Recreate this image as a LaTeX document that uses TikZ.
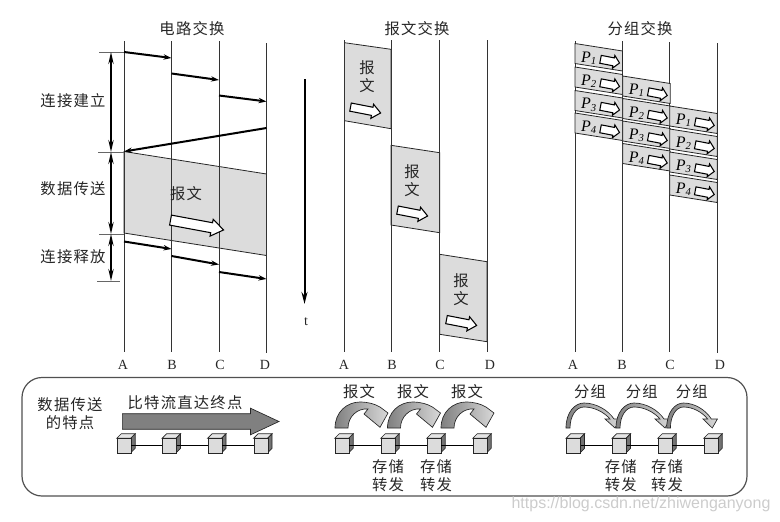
\documentclass[tikz,border=0pt]{standalone}
\usepackage{fontspec}
\setmainfont{Liberation Serif}
\newfontfamily\cjkfont[LetterSpace=8]{Noto Sans CJK SC}
\newfontfamily\markfont{Liberation Sans}
\usetikzlibrary{arrows.meta,shapes.arrows}
\definecolor{bandgray}{HTML}{DCDCDC}
\definecolor{arcdark}{HTML}{808080}
\definecolor{arclight}{HTML}{D8D8D8}
\definecolor{boxgray}{HTML}{505050}
\begin{document}
\begin{tikzpicture}[
  x=0.75pt, y=-0.75pt, % one unit is one pixel of the reference
  cjk label/.style={font=\cjkfont\fontsize{11.5}{13.5}\selectfont, align=center, inner sep=0pt, text=black!85},
  letter label/.style={font=\fontsize{10.5}{12}\selectfont, inner sep=0pt, text=black!85},
  time line/.style={draw=black!80, line width=0.75pt},
  band/.style={draw=black!85, line width=0.6pt, fill=bandgray},
  signal edge/.style={-{Stealth[length=6pt,width=4pt]}, line width=1.5pt},
  span edge/.style={{Stealth[length=9pt,width=4pt]}-{Stealth[length=9pt,width=4pt]}, line width=1.3pt},
  tick edge/.style={draw=black!60, line width=0.4pt},
  white arrow/.style={draw=black, fill=white, line width=0.8pt, single arrow, anchor=tail, inner xsep=0pt, shape border uses incircle=false},
  link edge/.style={draw, line width=0.7pt},
  cube/.pic={
    \path[draw=black!85, line width=0.5pt, fill=black!10] (0,0) -- (4.5,-4.5) -- (18.5,-4.5) -- (14,0) -- cycle;
    \path[draw=black!85, line width=0.5pt, fill=black!55] (14,0) -- (18.5,-4.5) -- (18.5,10) -- (14,14.5) -- cycle;
    \node[draw=black!85, line width=0.5pt, fill=bandgray, anchor=north west, minimum width=10.5pt, minimum height=10.9pt, inner sep=0pt] (-f) at (0,0) {};
  },
  wide arc/.pic={
    \shade[left color=arcdark, right color=arclight, draw=black!85, line width=0.5pt]
      (0,0) .. controls (0,-16) and (12,-26) .. (25,-26) .. controls (33,-26) and (40,-24) .. (45,-21)
      -- (53,-15) -- (45,-0.7) -- (29,-14) -- (33,-19) .. controls (22,-20) and (13,-11) .. (13,0) -- cycle;
  },
  thin arc/.pic={
    \shade[left color=arcdark, right color=arclight, draw=black!85, line width=0.5pt]
      (0,0) .. controls (0,-16) and (9,-25) .. (18,-25) .. controls (30,-25) and (42,-18) .. (48,-9)
      -- (54.5,-9) -- (49,0) -- (39,-9) -- (44,-9) .. controls (38,-16) and (28,-21) .. (18,-21)
      .. controls (10,-21) and (4,-12) .. (4,0) -- cycle;
  },
  packet/.pic={
    \path[band] (0,0) -- (47.5,7.5) -- (47.5,27.5) -- (0,20) -- cycle;
    \node[font=\fontsize{12}{14}\selectfont, inner sep=0pt] (-p) at (14,14.5) {\textit{P}\textsubscript{\textit{#1}}};
    \node[white arrow, inner ysep=2.6pt, minimum height=14.5pt, single arrow head extend=1.9pt, single arrow tip angle=95, rotate=-11] (-a) at (25,15.7) {};
  },
]
\useasboundingbox (0,0) rectangle (780,521);
% Define the titles
\node[cjk label] (title1) at (192,29) {电路交换};
\node[cjk label] (title2) at (417,29) {报文交换};
\node[cjk label] (title3) at (640,29) {分组交换};
% Circuit switching: band first, then the time lines
\path[band] (124,151.5) -- (266.5,174) -- (266.5,255.5) -- (124,233) -- cycle;
\coordinate (A1t) at (124,41);    \coordinate (A1b) at (124,352);
\coordinate (B1t) at (171.5,41);  \coordinate (B1b) at (171.5,352);
\coordinate (C1t) at (219,41);    \coordinate (C1b) at (219,352);
\coordinate (D1t) at (266.5,43);  \coordinate (D1b) at (266.5,353);
\path[time line] (A1t) edge (A1b);
\path[time line] (B1t) edge (B1b);
\path[time line] (C1t) edge (C1b);
\path[time line] (D1t) edge (D1b);
\node[letter label] (A1) at (123,365) {A};
\node[letter label] (B1) at (172,365) {B};
\node[letter label] (C1) at (220,365) {C};
\node[letter label] (D1) at (265,365) {D};
% Signal edges
\coordinate (s1) at (124,52);     \coordinate (s2) at (171.5,58);
\coordinate (s3) at (171.5,73.5); \coordinate (s4) at (219,80);
\coordinate (s5) at (219,95.5);   \coordinate (s6) at (266.5,101.5);
\coordinate (s7) at (266.5,128);  \coordinate (s8) at (124,151.5);
\coordinate (s9) at (124,241.5);  \coordinate (s10) at (171.5,249);
\coordinate (s11) at (171.5,256); \coordinate (s12) at (219,264.5);
\coordinate (s13) at (219,272);   \coordinate (s14) at (266.5,279);
\draw[signal edge] (s1) -- (s2);
\draw[signal edge] (s3) -- (s4);
\draw[signal edge] (s5) -- (s6);
\draw[signal edge] (s7) -- (s8);
\draw[signal edge] (s9) -- (s10);
\draw[signal edge] (s11) -- (s12);
\draw[signal edge] (s13) -- (s14);
% Spans on the left
\coordinate (m1) at (111,52);  \coordinate (t1) at (99,52);  \coordinate (u1) at (124,52);
\coordinate (m2) at (111,152); \coordinate (t2) at (98,152); \coordinate (u2) at (124,152);
\coordinate (m3) at (111,234); \coordinate (t3) at (99,234); \coordinate (u3) at (124,234);
\coordinate (m4) at (111,281); \coordinate (t4) at (97,281); \coordinate (u4) at (120,281);
\path[tick edge] (t1) edge (u1);
\path[tick edge] (t2) edge (u2);
\path[tick edge] (t3) edge (u3);
\path[tick edge] (t4) edge (u4);
\draw[span edge] (m1) -- (m2);
\draw[span edge] (m2) -- (m3);
\draw[span edge] (m3) -- (m4);
\node[cjk label] (setup) at (73,101) {连接建立};
\node[cjk label] (transfer) at (73,189) {数据传送};
\node[cjk label] (release) at (73,257) {连接释放};
\node[cjk label] (msg1) at (186,194) {报文};
\node[white arrow, inner ysep=3.4pt, minimum height=40.5pt, single arrow head extend=2.6pt, single arrow tip angle=70, rotate=-10.5] (arrow1) at (170,220) {};
% Time axis
\coordinate (time0) at (304.5,79);
\coordinate (time1) at (304.5,304);
\draw[-{Stealth[length=9pt,width=4.5pt]}, line width=1.5pt] (time0) -- (time1);
\node[letter label] (tlabel) at (306,322) {t};
% Message switching
\path[band] (344.5,42.7) -- (391,49.3) -- (391,128.7) -- (344.5,120.7) -- cycle;
\path[band] (391,145.3) -- (439.7,152.7) -- (439.7,232.7) -- (391,225) -- cycle;
\path[band] (439.7,254.3) -- (487,261.7) -- (487,341.7) -- (439.7,334.3) -- cycle;
\coordinate (A2t) at (344.5,40); \coordinate (A2b) at (344.5,352);
\coordinate (B2t) at (391,40);   \coordinate (B2b) at (391,352);
\coordinate (C2t) at (439.7,40); \coordinate (C2b) at (439.7,352);
\coordinate (D2t) at (487,40);   \coordinate (D2b) at (487,352);
\path[time line] (A2t) edge (A2b);
\path[time line] (B2t) edge (B2b);
\path[time line] (C2t) edge (C2b);
\path[time line] (D2t) edge (D2b);
\node[letter label] (A2) at (344,365) {A};
\node[letter label] (B2) at (392,365) {B};
\node[letter label] (C2) at (440,365) {C};
\node[letter label] (D2) at (490,365) {D};
\node[cjk label] (msg2) at (367,77) {报\\文};
\node[cjk label] (msg3) at (412,181) {报\\文};
\node[cjk label] (msg4) at (461,290) {报\\文};
\node[white arrow, inner ysep=2.7pt, minimum height=23pt, single arrow head extend=2.3pt, single arrow tip angle=80, rotate=-11] (arrow2) at (350,107) {};
\node[white arrow, inner ysep=2.7pt, minimum height=23pt, single arrow head extend=2.3pt, single arrow tip angle=80, rotate=-11] (arrow3) at (397,210) {};
\node[white arrow, inner ysep=2.7pt, minimum height=23pt, single arrow head extend=2.3pt, single arrow tip angle=80, rotate=-11] (arrow4) at (446,319.5) {};
% Packet switching
\coordinate (A3t) at (575,41);   \coordinate (A3b) at (575,352);
\coordinate (B3t) at (622.7,41); \coordinate (B3b) at (622.7,352);
\coordinate (C3t) at (669.7,42); \coordinate (C3b) at (669.7,352);
\coordinate (D3t) at (717,43);   \coordinate (D3b) at (717,353);
\path[time line] (A3t) edge (A3b);
\path[time line] (B3t) edge (B3b);
\path[time line] (C3t) edge (C3b);
\path[time line] (D3t) edge (D3b);
\node[letter label] (A3) at (573,365) {A};
\node[letter label] (B3) at (622,365) {B};
\node[letter label] (C3) at (670,365) {C};
\node[letter label] (D3) at (720,365) {D};
\pic (pa1) at (575,43.5) {packet=1};
\pic (pa2) at (575,67) {packet=2};
\pic (pa3) at (575,90.5) {packet=3};
\pic (pa4) at (575,113) {packet=4};
\pic (pb1) at (622.7,76) {packet=1};
\pic (pb2) at (622.7,98.5) {packet=2};
\pic (pb3) at (622.7,121) {packet=3};
\pic (pb4) at (622.7,143.5) {packet=4};
\pic (pc1) at (669.7,106) {packet=1};
\pic (pc2) at (669.7,129) {packet=2};
\pic (pc3) at (669.7,152) {packet=3};
\pic (pc4) at (669.7,175) {packet=4};
% Lower panel
\draw[draw=boxgray, line width=0.9pt, rounded corners=15pt] (22,377.5) rectangle (747,496);
\node[cjk label] (feature) at (70,413.5) {数据传送\\的特点};
\node[cjk label] (direct) at (185,403) {比特流直达终点};
\node[draw=black!85, line width=0.5pt, fill=black!50, single arrow, anchor=tail, inner xsep=0pt, inner ysep=5.6pt, shape border uses incircle=false, minimum height=117.5pt, single arrow head extend=4.1pt, single arrow tip angle=50] (bigarrow) at (122,421.5) {};
% Routers
\pic (r1) at (116.7,438.3) {cube};
\pic (r2) at (162,438.3) {cube};
\pic (r3) at (207.5,438.3) {cube};
\pic (r4) at (253.5,438.3) {cube};
\pic (r5) at (334.7,438.3) {cube};
\pic (r6) at (380.7,438.3) {cube};
\pic (r7) at (426.7,438.3) {cube};
\pic (r8) at (472.7,438.3) {cube};
\pic (r9) at (566,438.3) {cube};
\pic (r10) at (612,438.3) {cube};
\pic (r11) at (657.7,438.3) {cube};
\pic (r12) at (703.7,438.3) {cube};
\path[link edge] (r1-f) edge (r2-f);
\path[link edge] (r2-f) edge (r3-f);
\path[link edge] (r3-f) edge (r4-f);
\path[link edge] (r5-f) edge (r6-f);
\path[link edge] (r6-f) edge (r7-f);
\path[link edge] (r7-f) edge (r8-f);
\path[link edge] (r9-f) edge (r10-f);
\path[link edge] (r10-f) edge (r11-f);
\path[link edge] (r11-f) edge (r12-f);
% Curved hops
\pic at (335,428) {wide arc};
\pic at (387.5,428) {wide arc};
\pic at (441,428) {wide arc};
\pic at (566,428) {thin arc};
\pic at (616,428) {thin arc};
\pic[xscale=0.93] at (666.7,428) {thin arc};
\node[cjk label] (hop1) at (359,392) {报文};
\node[cjk label] (hop2) at (413,392) {报文};
\node[cjk label] (hop3) at (467,392) {报文};
\node[cjk label] (hop4) at (590,392) {分组};
\node[cjk label] (hop5) at (641.7,392) {分组};
\node[cjk label] (hop6) at (691.7,392) {分组};
\node[cjk label] (store1) at (388,476) {存储\\转发};
\node[cjk label] (store2) at (436,476) {存储\\转发};
\node[cjk label] (store3) at (620.7,476) {存储\\转发};
\node[cjk label] (store4) at (667,476) {存储\\转发};
% Watermark
\node[font=\markfont\fontsize{12}{14}\selectfont, text=black!20, inner sep=0pt] (mark) at (641,504) {https://blog.csdn.net/zhiwenganyong};
\end{tikzpicture}
\end{document}
